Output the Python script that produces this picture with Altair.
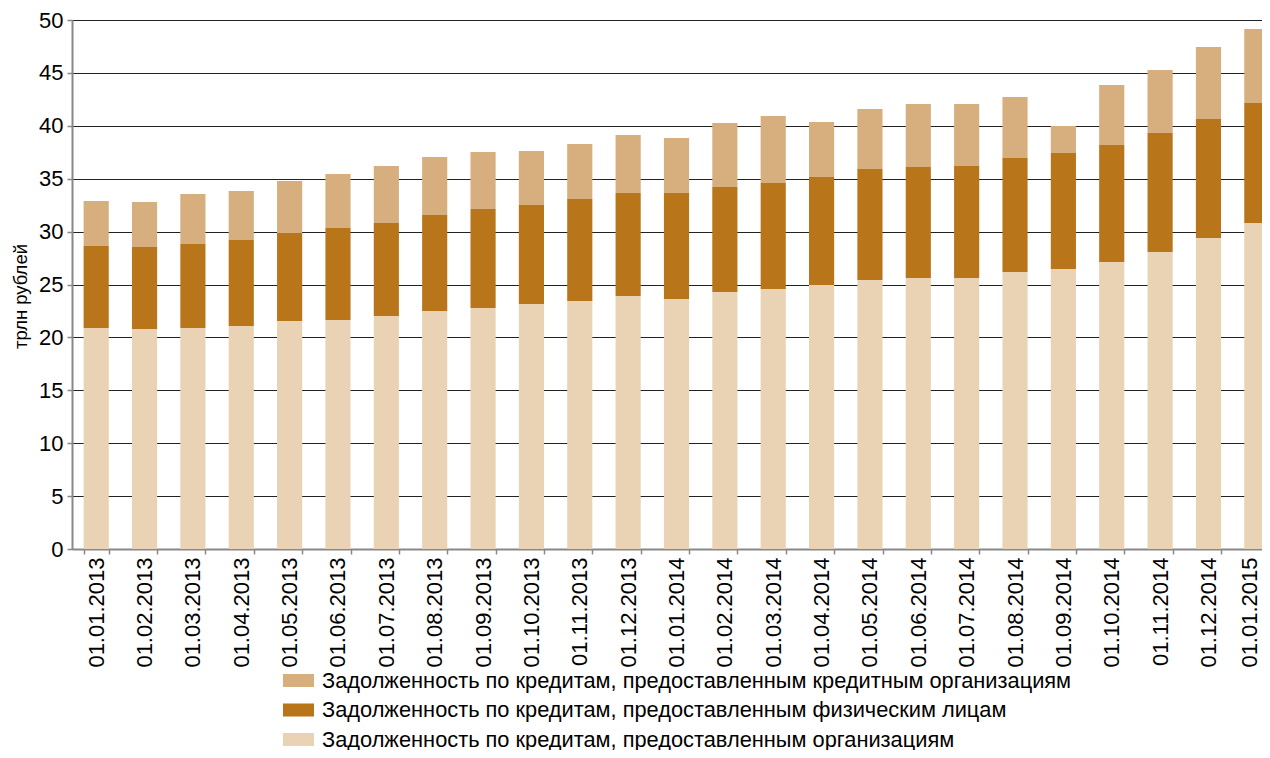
import altair as alt
import pandas as pd

dates = ["01.01.2013", "01.02.2013", "01.03.2013", "01.04.2013", "01.05.2013",
         "01.06.2013", "01.07.2013", "01.08.2013", "01.09.2013", "01.10.2013",
         "01.11.2013", "01.12.2013", "01.01.2014", "01.02.2014", "01.03.2014",
         "01.04.2014", "01.05.2014", "01.06.2014", "01.07.2014", "01.08.2014",
         "01.09.2014", "01.10.2014", "01.11.2014", "01.12.2014", "01.01.2015"]

# bottom segment: loans to organisations
org = [20.89, 20.79, 20.89, 21.08, 21.55, 21.64, 22.02, 22.50, 22.78, 23.16,
       23.44, 23.91, 23.63, 24.29, 24.57, 24.95, 25.43, 25.61, 25.61, 26.18,
       26.47, 27.13, 28.07, 29.40, 30.81]
# middle segment: loans to individuals
phys = [7.75, 7.75, 7.94, 8.12, 8.32, 8.70, 8.79, 9.07, 9.36, 9.35,
        9.64, 9.74, 10.02, 9.93, 10.02, 10.21, 10.49, 10.50, 10.59, 10.78,
        10.96, 11.06, 11.25, 11.24, 11.34]
# top segment: loans to credit institutions
cred = [4.26, 4.26, 4.72, 4.64, 4.91, 5.10, 5.39, 5.48, 5.38, 5.11,
        5.20, 5.48, 5.20, 6.04, 6.34, 5.20, 5.67, 5.95, 5.86, 5.76,
        2.55, 5.67, 5.95, 6.81, 7.00]

s_cred = "Задолженность по кредитам, предоставленным кредитным организациям"
s_phys = "Задолженность по кредитам, предоставленным физическим лицам"
s_org = "Задолженность по кредитам, предоставленным организациям"

series_names = [s_cred, s_phys, s_org]
series_colors = ["#D7AE7D", "#B8751A", "#EAD3B4"]

rows = []
for i, d in enumerate(dates):
    rows.append({"date": d, "series": s_org, "value": org[i], "ord": 0})
    rows.append({"date": d, "series": s_phys, "value": phys[i], "ord": 1})
    rows.append({"date": d, "series": s_cred, "value": cred[i], "ord": 2})
df = pd.DataFrame(rows)

font = "Liberation Sans"
last_label = dates[-1]

chart = alt.Chart(df).mark_bar().encode(
    x=alt.X(
        "date:N", sort=dates, title=None,
        scale=alt.Scale(paddingInner=0.48, paddingOuter=0.24, range=[0, 1209]),
        axis=alt.Axis(
            labelAngle=270, labelFont=font, labelFontSize=22, labelColor="#000",
            labelPadding=3, labelOverlap=False, tickBand="extent", tickExtra=True,
            labelOffset={"condition": {"test": f"datum.value == '{last_label}'", "value": -7}, "value": 0},
            ticks=True, tickSize=5, tickColor="#888", tickWidth=1.5,
            domainColor="#888", domainWidth=2, grid=False,
        ),
    ),
    y=alt.Y(
        "value:Q", stack="zero",
        scale=alt.Scale(domain=[0, 50], nice=False),
        axis=alt.Axis(
            values=list(range(0, 51, 5)), title="трлн рублей",
            titleFont=font, titleFontSize=18.5, titleFontWeight="normal", titleColor="#000",
            titleAngle=270, titleX=-52, titleY=276, titleAlign="center", titleBaseline="middle",
            labelFont=font, labelFontSize=22, labelColor="#000", labelPadding=4,
            tickSize=5, tickColor="#888", tickWidth=1.5,
            domainColor="#888", domainWidth=2,
            grid=True, gridColor="#222", gridWidth=1,
        ),
    ),
    color=alt.Color(
        "series:N",
        scale=alt.Scale(domain=series_names, range=series_colors),
        legend=alt.Legend(
            title=None, orient="none", legendX=211, legendY=645, direction="vertical",
            symbolType="M-1,-0.42L1,-0.42L1,0.42L-1,0.42Z", symbolSize=961,
            symbolStrokeWidth=0, labelFont=font, labelFontSize=21.8, labelColor="#000",
            labelOffset=8, rowPadding=1.5, labelLimit=0,
        ),
    ),
    order=alt.Order("ord:Q", sort="ascending"),
).properties(
    width=1190, height=529,
    autosize=alt.AutoSizeParams(type="none"),
    padding={"left": 64, "top": 12, "right": 0, "bottom": 201},
).configure_view(stroke=None)

chart.save("out.html", embed_options={"renderer": "svg", "actions": False})
